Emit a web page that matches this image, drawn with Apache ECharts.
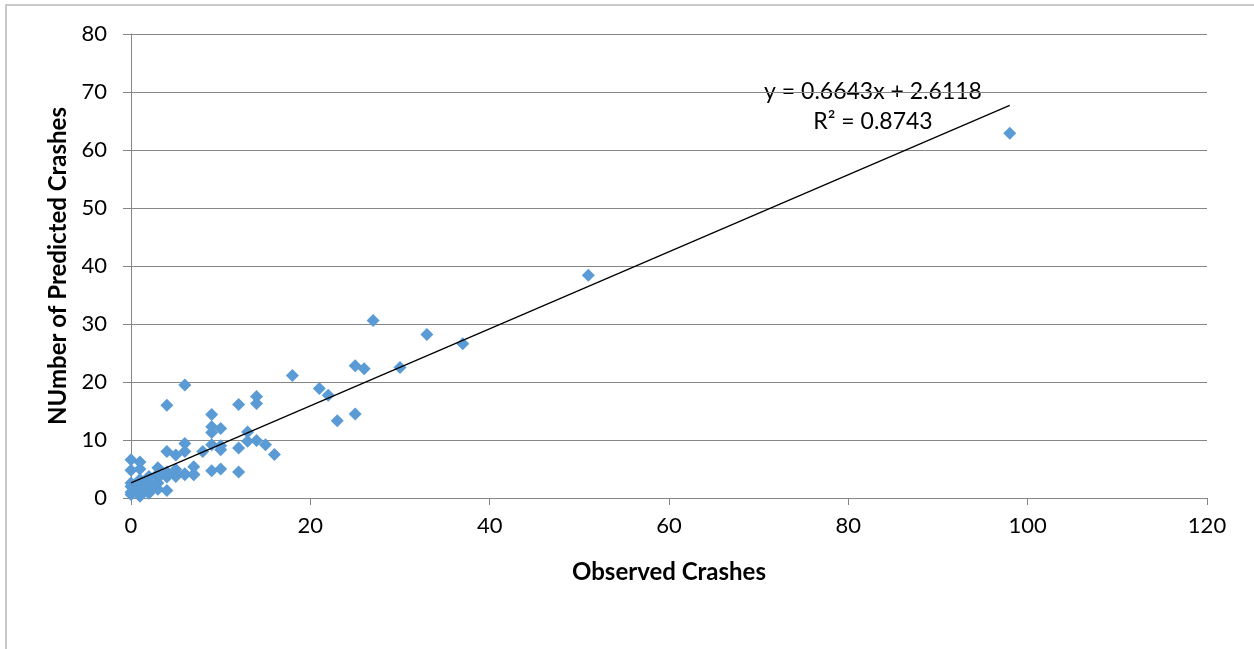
<!DOCTYPE html>
<html>
<head>
<meta charset="utf-8">
<script src="https://cdn.jsdelivr.net/npm/echarts@6/dist/echarts.min.js"></script>
<style>
  html, body { margin: 0; padding: 0; background: #fff; }
  #main { width: 1254px; height: 649px; }
</style>
</head>
<body>
<div id="main"></div>
<script>
// observed vs predicted crashes
var observed = [98, 51, 37, 33, 27, 30, 25, 26, 25, 23, 18, 21, 22, 14, 14, 12, 16, 15, 14, 13,
  13, 12, 12, 10, 10, 10, 9, 9, 9, 9, 10, 9, 8, 6, 6, 5, 4, 4, 6, 7, 7, 6, 5, 7,
  0, 1, 0, 1, 3, 4, 5, 5, 6, 4, 3, 2, 4, 5, 3, 2, 2, 1, 0, 0, 0, 1, 1, 2, 3, 2, 1, 0, 4, 3, 1, 2];
var predicted = [62.9, 38.4, 26.6, 28.2, 30.6, 22.5, 22.8, 22.3, 14.5, 13.3, 21.1, 18.9, 17.7, 17.5, 16.3, 16.1, 7.5, 9.2, 9.9, 11.4,
  9.8, 8.6, 4.5, 12, 9, 5.0, 14.4, 12.3, 11.3, 4.7, 8.3, 9.2, 8, 9.4, 8, 7.4, 8, 16, 19.5, 5.4, 4.1, 4.2, 4.3, 4.0,
  6.6, 6.2, 4.8, 5.0, 5.2, 4.5, 4.9, 3.7, 4.0, 1.3, 3.5, 3.7, 3.6, 3.9, 2.6, 2.2, 1.5, 0.3, 1.0, 2.0, 0.6, 1.5, 2.4, 0.8, 1.5, 2.8, 3.2, 2.6, 4.0, 4.2, 1.1, 1.2];
// linear trendline endpoints (y = 0.6643x + 2.6118)
var trendX = [0, 98];
var trendY = [2.61, 67.71];
var eqText = 'y = 0.6643x + 2.6118';
var r2Text = 'R² = 0.8743';

var points = observed.map(function (x, i) { return [x, predicted[i]]; });
var trend = trendX.map(function (x, i) { return [x, trendY[i]]; });

var font = 'Lato, "Open Sans", sans-serif';
var myChart = echarts.init(document.getElementById('main'));
var option = {
  backgroundColor: '#fff',
  animation: false,
  grid: { left: 131, right: 47, top: 34, bottom: 151 },
  xAxis: {
    type: 'value',
    min: 0, max: 120, interval: 20,
    name: 'Observed Crashes',
    nameLocation: 'middle',
    nameGap: 62,
    nameTextStyle: { fontFamily: font, fontWeight: 'bold', fontSize: 24, color: '#000' },
    axisLine: { show: true, lineStyle: { color: '#868686' } },
    axisTick: { show: true, length: 7, lineStyle: { color: '#868686' } },
    axisLabel: { fontFamily: font, fontSize: 22, color: '#000', margin: 17 },
    splitLine: { show: false }
  },
  yAxis: {
    type: 'value',
    min: 0, max: 80, interval: 10,
    name: 'NUmber of Predicted Crashes',
    nameLocation: 'middle',
    nameGap: 60,
    nameRotate: 90,
    nameTextStyle: { fontFamily: font, fontWeight: 'bold', fontSize: 24, color: '#000' },
    axisLine: { show: true, lineStyle: { color: '#868686' } },
    axisTick: { show: true, inside: false, length: 8, lineStyle: { color: '#868686' } },
    axisLabel: { fontFamily: font, fontSize: 22, color: '#000', margin: 24 },
    splitLine: { show: true, lineStyle: { color: '#868686', width: 1 } }
  },
  graphic: [
    { type: 'rect', shape: { x: 6, y: 5, width: 1400, height: 800 }, style: { fill: 'none', stroke: '#b8b8b8', lineWidth: 1.5 }, silent: true, z: -1 },
    { type: 'text', x: 873, y: 92, style: { text: eqText, fontFamily: font, fontSize: 23, fill: '#000', align: 'center', verticalAlign: 'middle' } },
    { type: 'text', x: 873, y: 122, style: { text: r2Text, fontFamily: font, fontSize: 23, fill: '#000', align: 'center', verticalAlign: 'middle' } }
  ],
  series: [
    {
      type: 'scatter',
      data: points,
      symbol: 'diamond',
      symbolSize: 13,
      itemStyle: { color: '#5b9bd5', opacity: 1 },
      z: 2
    },
    {
      type: 'line',
      data: trend,
      symbol: 'none',
      lineStyle: { color: '#000', width: 1.3 },
      z: 3
    }
  ]
};
myChart.setOption(option);
</script>
</body>
</html>
